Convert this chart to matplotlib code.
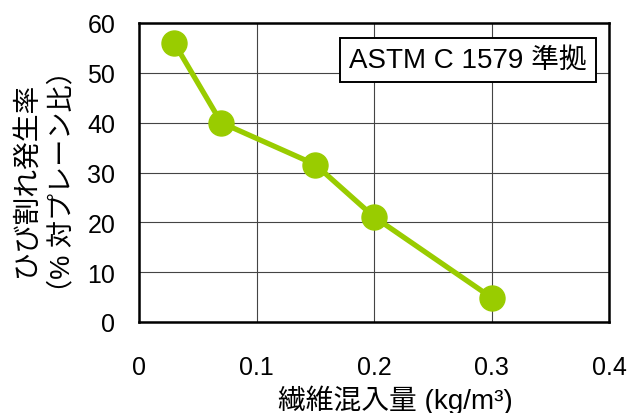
import matplotlib
matplotlib.use("Agg")
import matplotlib.pyplot as plt

plt.rcParams['font.family'] = ['Liberation Sans', 'Noto Sans CJK JP', 'DejaVu Sans']

# datos
fibra = [0.03, 0.07, 0.15, 0.2, 0.3]
grietas = [56.0, 40.0, 31.6, 21.1, 4.9]
x_ticks = [0, 0.1, 0.2, 0.3, 0.4]
x_labels = ["0", "0.1", "0.2", "0.3", "0.4"]
y_ticks = [0, 10, 20, 30, 40, 50, 60]

verde = "#99cc00"
W, H = 631, 414

fig = plt.figure(figsize=(W/100, H/100), dpi=100)
ax = fig.add_axes([139/W, 1-323/H, 470/W, 299/H])

ax.plot(fibra, grietas, color=verde, lw=3.8, marker="o", ms=18, zorder=3, clip_on=False)

ax.set_xlim(0, 0.4)
ax.set_ylim(0, 60)
ax.set_xticks(x_ticks)
ax.set_xticklabels(x_labels)
ax.set_yticks(y_ticks)
ax.grid(True, color="#444444", lw=0.8)
ax.set_axisbelow(True)
ax.tick_params(axis="x", length=0, pad=24, labelsize=18)
ax.tick_params(axis="y", length=0, pad=17, labelsize=18)
for s in ax.spines.values():
    s.set_linewidth(1.8)
    s.set_color("black")

# titulos de los ejes
fig.text(395/W, 1-400/H, "繊維混入量 (kg/m³)", fontsize=20, ha="center", va="center")
fig.text(27/W, 1-180/H, "ひび割れ発生率", fontsize=20, rotation=90, ha="center", va="center")
fig.text(62/W, 1-182/H, "（% 対プレーン比）", fontsize=19.5, rotation=90, ha="center", va="center")

fig.text(468/W, 1-61/H, "ASTM C 1579 準拠", fontsize=20, ha="center", va="center",
         bbox=dict(boxstyle="square,pad=0.32", fc="white", ec="black", lw=1.4))

fig.savefig("out.png", dpi=100)
